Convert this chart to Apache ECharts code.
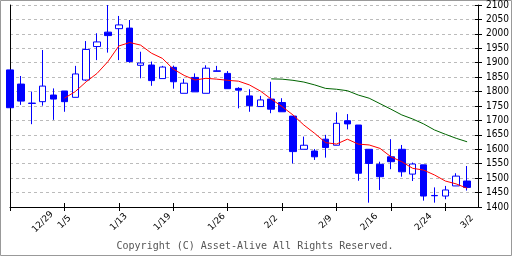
<!DOCTYPE html>
<html><head><meta charset="utf-8">
<script src="https://cdn.jsdelivr.net/npm/echarts@6/dist/echarts.min.js"></script>
<style>html,body{margin:0;padding:0;background:#fff}#c{width:512px;height:256px}</style>
</head><body><div id="c"></div>
<script>
const dates = ['12/24','12/25','12/26','12/29','12/30','1/5','1/6','1/7','1/8','1/9','1/13','1/14','1/15','1/16','1/19','1/20','1/21','1/22','1/23','1/26','1/27','1/28','1/29','1/30','2/2','2/3','2/4','2/5','2/6','2/9','2/10','2/12','2/13','2/16','2/17','2/18','2/19','2/20','2/24','2/25','2/26','2/27','3/2',''];
const tickLabels = ['12/29','1/5','1/13','1/19','1/26','2/2','2/9','2/16','2/24','3/2'];
const open  = [1875,1826,1760,1765,1788,1802,1780,1840,1956,2006,2018,2020,1891,1892,1845,1884,1794,1849,1794,1870,1863,1811,1785,1748,1774,1762,1715,1600,1594,1635,1614,1699,1684,1600,1548,1574,1600,1514,1546,1440,1438,1473,1490];
const close = [1744,1767,1759,1819,1774,1765,1861,1946,1972,1994,2031,1904,1899,1838,1885,1834,1829,1799,1881,1872,1810,1805,1751,1771,1739,1730,1592,1614,1574,1606,1690,1688,1517,1551,1505,1557,1522,1549,1438,1439,1459,1507,1468];
const low   = [1744,1754,1687,1751,1702,1730,1780,1837,1909,1935,1909,1900,1846,1820,1845,1810,1794,1799,1794,1870,1810,1742,1730,1748,1725,1730,1551,1600,1563,1571,1614,1669,1491,1415,1459,1531,1505,1490,1422,1415,1427,1473,1457];
const high  = [1875,1854,1800,1944,1811,1802,1889,1975,2002,2100,2062,2048,1938,1904,1889,1890,1844,1863,1891,1889,1871,1815,1808,1785,1834,1777,1715,1644,1601,1650,1728,1722,1684,1600,1557,1635,1615,1554,1546,1468,1473,1517,1542];
const maShort = [null,null,null,null,null,1777,1800,1834,1863,1904,1958,1970,1961,1933,1915,1878,1856,1840,1846,1843,1839,1836,1823,1802,1774,1748,1719,1684,1655,1623,1618,1635,1618,1615,1603,1574,1557,1534,1528,1511,1490,1480,1465];
const maLong = [null,null,null,null,null,null,null,null,null,null,null,null,null,null,null,null,null,null,null,null,null,null,null,null,1844,1843,1839,1833,1823,1811,1808,1803,1788,1777,1758,1739,1719,1705,1688,1667,1652,1638,1626];

const kData = open.map((o, i) => [o, close[i], low[i], high[i]]);
const chart = echarts.init(document.getElementById('c'), null, {renderer: 'canvas'});
const labelFont = "'Liberation Sans Narrow','DejaVu Sans Condensed',sans-serif";
chart.setOption({
  animation: false,
  backgroundColor: '#fff',
  grid: {left: 10, right: 34, top: 5, bottom: 49},
  xAxis: [{
    type: 'category', data: dates, boundaryGap: false, position: 'bottom',
    axisLine: {lineStyle: {color: '#000', width: 1}},
    axisTick: {show: true, length: 4, interval: (i) => i % 5 === 0 && i < 43, lineStyle: {color: '#000'}},
    axisLabel: {
      interval: (i, v) => tickLabels.indexOf(v) >= 0,
      rotate: 45, align: 'center', verticalAlign: 'middle', margin: 15,
      fontSize: 9, color: '#000', fontFamily: 'DejaVu Sans'
    },
    splitLine: {show: false}
  }, {
    type: 'category', data: dates, boundaryGap: false, position: 'bottom',
    axisLine: {show: false},
    axisTick: {show: true, inside: true, length: 4, interval: (i) => i % 5 === 0 && i < 43, lineStyle: {color: '#000'}},
    axisLabel: {show: false}, splitLine: {show: false}
  }],
  yAxis: [{
    type: 'value', position: 'right', min: 1400, max: 2100, interval: 50,
    axisLine: {show: true, lineStyle: {color: '#000'}},
    axisTick: {show: true, length: 4, lineStyle: {color: '#000'}},
    axisLabel: {margin: 8, fontSize: 10, color: '#000', fontFamily: labelFont, formatter: (v) => String(v)},
    splitLine: {show: true, lineStyle: {color: '#bbb', type: [3, 3], width: 1}}
  }, {
    type: 'value', position: 'left', min: 1400, max: 2100, interval: 50,
    axisLine: {show: true, lineStyle: {color: '#000'}},
    axisTick: {show: false}, axisLabel: {show: false}, splitLine: {show: false}
  }, {
    type: 'value', position: 'right', min: 1400, max: 2100, interval: 50,
    axisLine: {show: false},
    axisTick: {show: true, inside: true, length: 3, lineStyle: {color: '#000'}},
    axisLabel: {show: false}, splitLine: {show: false}
  }],
  series: [{
    type: 'candlestick', data: kData, barWidth: 7,
    itemStyle: {color: '#fff', color0: '#0000ff', borderColor: '#0000ff', borderColor0: '#0000ff', borderWidth: 1}
  }, {
    type: 'line', data: maShort, showSymbol: false, symbol: 'none',
    lineStyle: {color: '#ff0000', width: 1}
  }, {
    type: 'line', data: maLong, showSymbol: false, symbol: 'none',
    lineStyle: {color: '#006400', width: 1}
  }],
  graphic: [{
    type: 'rect', shape: {x: 0.5, y: 0.5, width: 511, height: 255},
    style: {fill: 'none', stroke: '#999', lineWidth: 1}, silent: true
  }, {
    type: 'text', x: 255, y: 246,
    style: {text: 'Copyright (C) Asset-Alive All Rights Reserved.', fontSize: 10,
      fontFamily: 'DejaVu Sans Mono', fill: '#555', align: 'center', verticalAlign: 'middle'}
  }]
});
</script></body></html>
